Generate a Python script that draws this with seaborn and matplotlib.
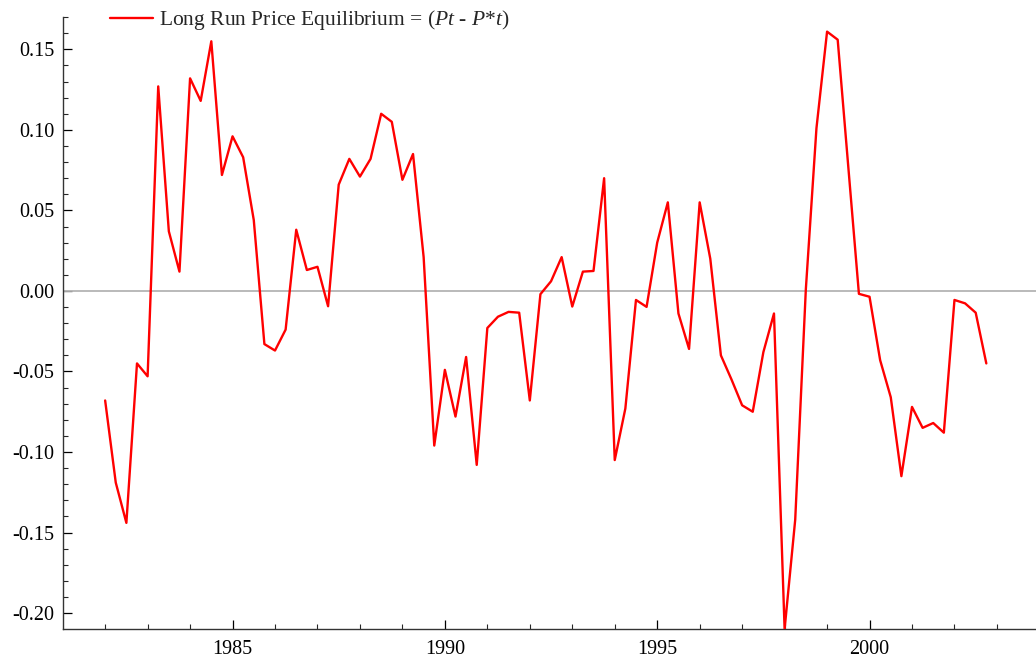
import numpy as np
import pandas as pd
import matplotlib
matplotlib.use("Agg")
import matplotlib.pyplot as plt
import seaborn as sns

# Quarterly observations, 1982Q1 - 2002Q4
start_year = 1982.0
values = [
    -0.068, -0.119, -0.144, -0.045, -0.053, 0.127, 0.037, 0.012,
    0.132, 0.118, 0.155, 0.072, 0.096, 0.083, 0.044, -0.033,
    -0.037, -0.024, 0.038, 0.013, 0.015, -0.0095, 0.066, 0.082,
    0.071, 0.082, 0.110, 0.105, 0.069, 0.085, 0.021, -0.096,
    -0.049, -0.078, -0.041, -0.108, -0.023, -0.016, -0.013, -0.0135,
    -0.068, -0.002, 0.006, 0.021, -0.0097, 0.012, 0.0124, 0.070,
    -0.105, -0.073, -0.0056, -0.0099, 0.030, 0.055, -0.014, -0.036,
    0.055, 0.020, -0.040, -0.055, -0.071, -0.075, -0.038, -0.014,
    -0.210, -0.142, 0.001, 0.101, 0.161, 0.156, 0.077, -0.0018,
    -0.0036, -0.043, -0.066, -0.115, -0.072, -0.085, -0.082, -0.088,
    -0.0056, -0.0077, -0.0135, -0.045,
]
years = [start_year + 0.25 * i for i in range(len(values))]
label = r"Long Run Price Equilibrium = ($Pt$ - $P$*$t$)"

yticks = [-0.20, -0.15, -0.10, -0.05, 0.00, 0.05, 0.10, 0.15]
ytick_labels = ["-0.20", "-0.15", "-0.10", "-0.05", "0.00", "0.05", "0.10", "0.15"]
xticks = [1985, 1990, 1995, 2000]
xtick_labels = ["1985", "1990", "1995", "2000"]

df = pd.DataFrame({"year": years, "value": values, "series": label})

sns.set_style("ticks")
plt.rcParams["font.family"] = ["Liberation Serif", "DejaVu Serif"]
plt.rcParams["mathtext.fontset"] = "custom"
plt.rcParams["mathtext.rm"] = "Liberation Serif"
plt.rcParams["mathtext.it"] = "Liberation Serif:italic"
plt.rcParams["mathtext.bf"] = "Liberation Serif:bold"

fig = plt.figure(figsize=(10.36, 6.59), dpi=100)
ax = fig.add_axes([0.0605, 0.0455, 1.0 - 0.0605, 0.974 - 0.0455])

ax.axhline(0.0, color="#b4b4b4", lw=1.3, zorder=1)
sns.lineplot(data=df, x="year", y="value", hue="series", palette=["#ff0000"],
             lw=1.7, ax=ax, zorder=3)

ax.set_xlim(1981.0, 2003.92)
ax.set_ylim(-0.2099, 0.170)

ax.set_xticks(xticks)
ax.set_xticklabels(xtick_labels)
ax.set_xticks(np.arange(1982, 2004, 1), minor=True)
ax.set_yticks(yticks)
ax.set_yticklabels(ytick_labels)
ax.set_yticks(np.arange(-0.20, 0.171, 0.01), minor=True)

ax.tick_params(axis="both", which="major", direction="in", length=6.5, width=0.9,
               labelsize=14.5, colors="black")
ax.tick_params(axis="both", which="minor", direction="in", length=3.6, width=0.8)
ax.tick_params(axis="x", which="major", pad=8)
ax.tick_params(axis="y", which="major", pad=6)

for s in ["top", "right"]:
    ax.spines[s].set_visible(False)
for s in ["left", "bottom"]:
    ax.spines[s].set_color("#333333")
    ax.spines[s].set_linewidth(1.0)

ax.set_xlabel("")
ax.set_ylabel("")

ax.legend(loc="center left", bbox_to_anchor=(0.0486, 0.995), frameon=False,
          borderaxespad=0, borderpad=0, handlelength=2.0, handletextpad=0.3,
          fontsize=15.5)

fig.savefig("out.png", dpi=100)
